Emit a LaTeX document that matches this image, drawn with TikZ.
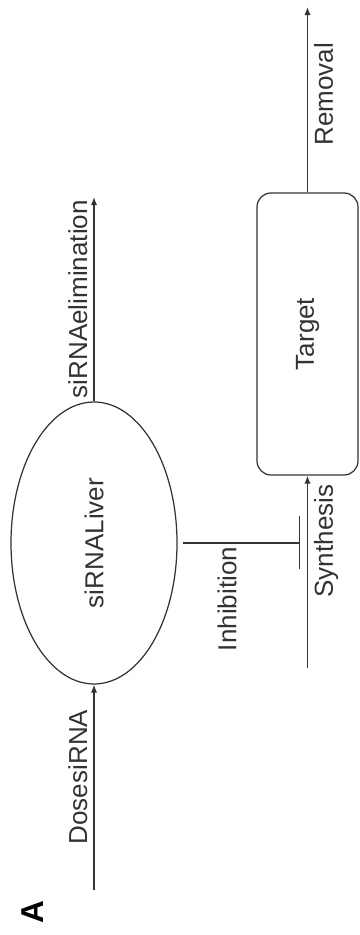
\documentclass[tikz,border=0pt]{standalone}
\usepackage{fontspec}
\setmainfont{Liberation Sans}
\usetikzlibrary{arrows.meta}
\usetikzlibrary{shapes.geometric}
\definecolor{ink}{HTML}{333333}

\begin{document}
\begin{tikzpicture}[
     every node/.style={text=ink,font=\fontsize{14.8}{17}\selectfont},
     flow/.style={draw=ink,line width=0.8pt,-{Latex[length=4.6pt,width=3.6pt]}},
     comp/.style={draw=ink,line width=0.7pt,rotate=90,inner sep=0pt},
     lbl/.style={midway,sloped}
   ]
   \path[use as bounding box] (0,0) rectangle (7.2,18.7);
   % Panel letter.
   \node[rotate=90,text=black,font=\fontsize{18}{20}\selectfont\bfseries] (panel) at (0.66,0.46) {A};
   % Compartments.
   \node[comp,ellipse,minimum width=5.64cm,minimum height=3.32cm] (liver) at (1.88,7.84) {siRNALiver};
   \node[comp,rectangle,rounded corners=0.28cm,minimum width=5.64cm,minimum height=2.02cm] (target) at (6.15,12.02) {Target};
   % Free ends.
   \coordinate (dose) at (1.88,0.9);
   \coordinate (elim) at (1.88,14.76);
   \coordinate (synth) at (6.15,5.34);
   \coordinate (remove) at (6.15,18.56);
   \coordinate (block) at (6.0,7.84);
   % Fluxes.
   \draw[flow] (dose) -- (liver.west) node[lbl,above,pos=0.55] (doselbl) {DosesiRNA};
   \draw[flow] (liver.east) -- (elim) node[lbl,above] (elimlbl) {siRNAelimination};
   \draw[flow] (synth) -- (target.west) node[lbl,below,pos=0.66] (synthlbl) {Synthesis};
   \draw[flow] (target.east) -- (remove) node[lbl,below,pos=0.53] (removelbl) {Removal};
   % Inhibition of synthesis.
   \draw[draw=ink,line width=0.8pt,-{Bar[width=1.06cm]},shorten <=0.1cm] (liver.south) -- (block);
   \node[rotate=90] (inhlbl) at (4.54,6.72) {Inhibition};
 \end{tikzpicture}
\end{document}
